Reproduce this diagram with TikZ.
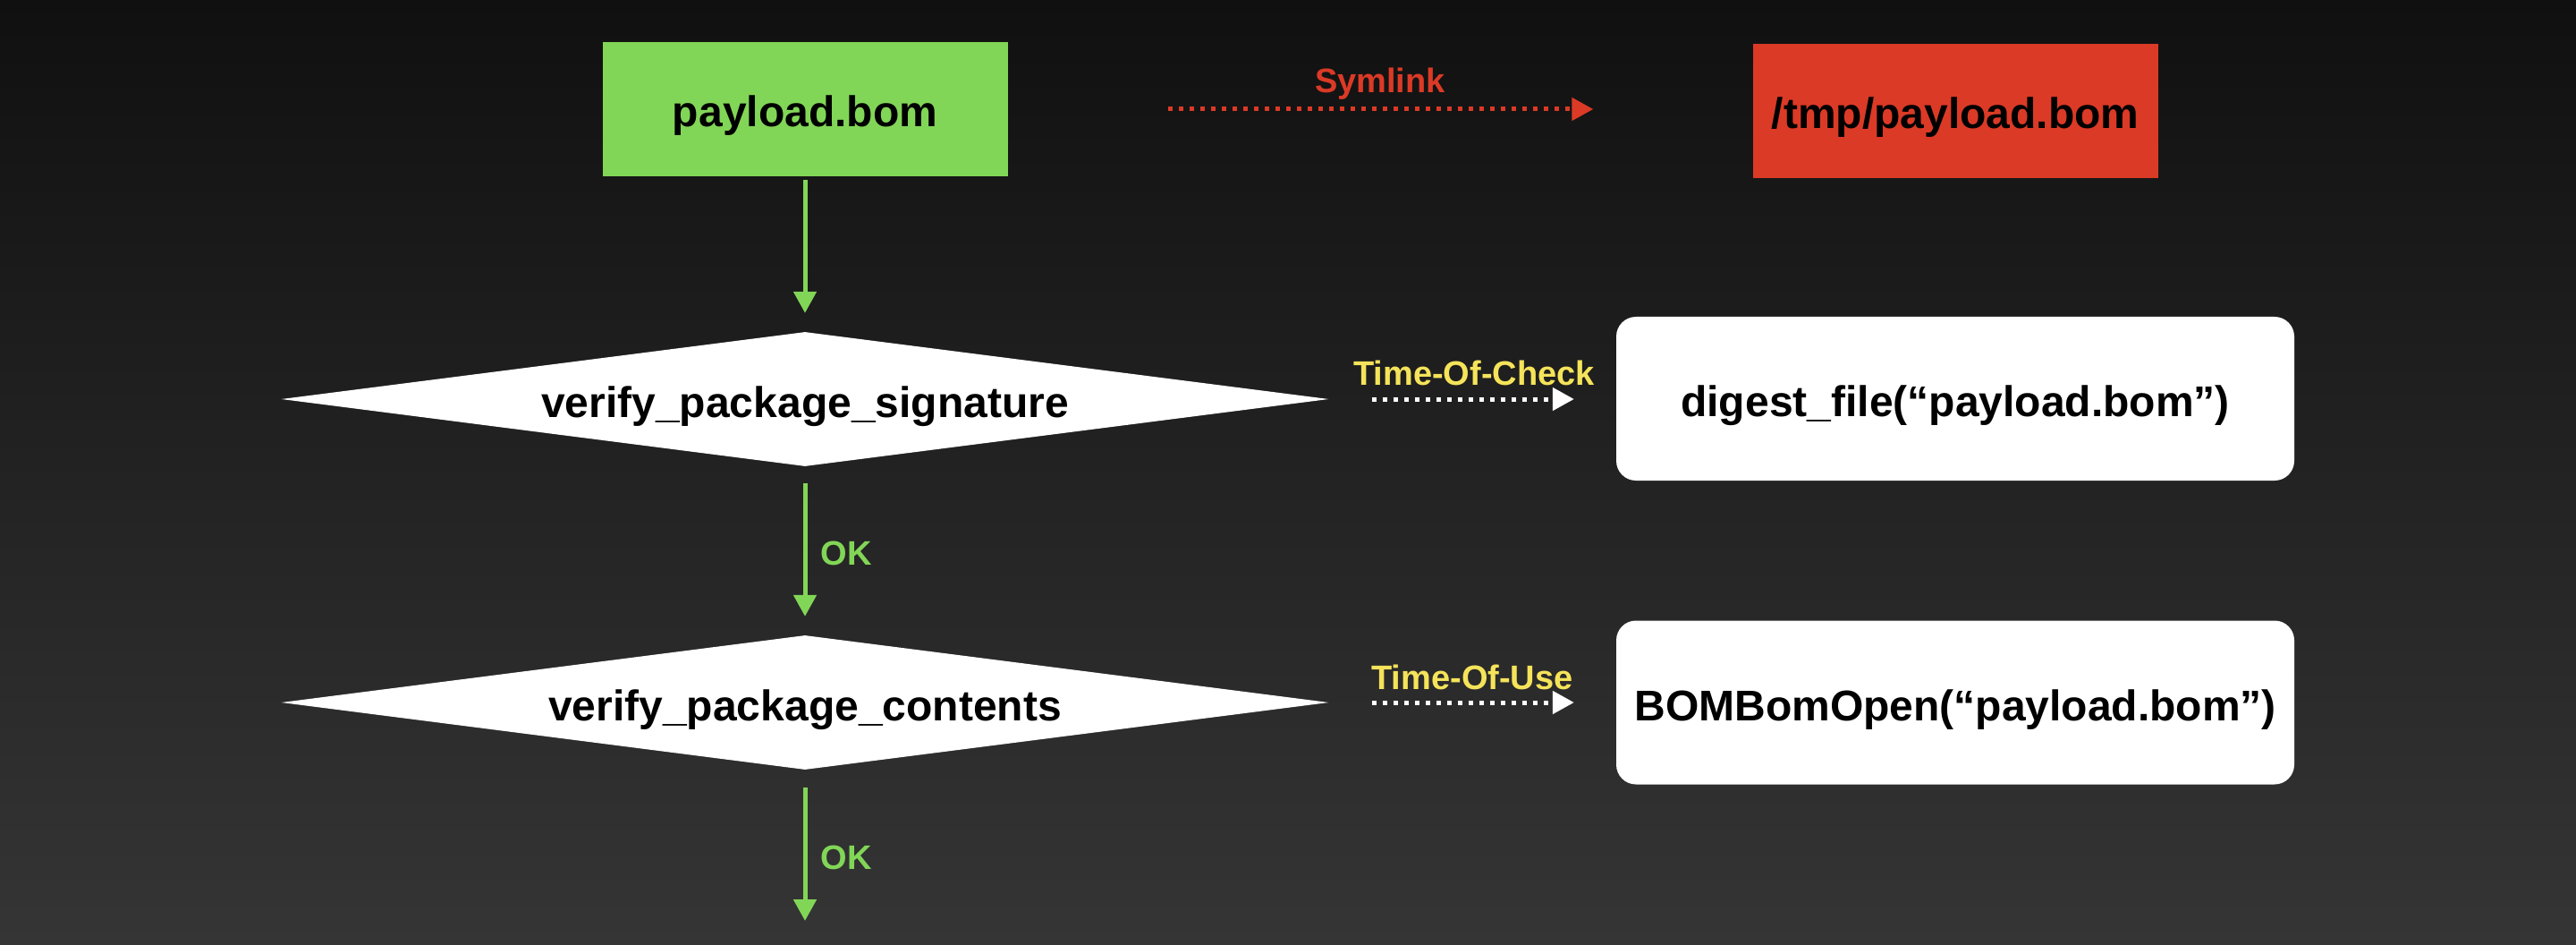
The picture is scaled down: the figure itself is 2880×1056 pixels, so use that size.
\documentclass[tikz,border=0pt]{standalone}
\usepackage{fontspec}
\setmainfont{Liberation Sans}
\usetikzlibrary{shapes.geometric,arrows.meta}
\definecolor{bgtop}{HTML}{101010}
\definecolor{bgbot}{HTML}{353535}
\definecolor{okgreen}{HTML}{82D657}
\definecolor{symred}{HTML}{DB3A26}
\definecolor{tocyellow}{HTML}{F5E35A}
\begin{document}
\begin{tikzpicture}[x=1pt,y=-1pt,
  mainfont/.style={font=\fontsize{48}{58}\selectfont\bfseries, text height=40pt, text depth=0pt},
  filebox/.style={rectangle, inner sep=0pt, minimum width=453pt, minimum height=150pt, mainfont, text=black},
  decision/.style={diamond, aspect=7.8, inner sep=0pt, fill=white, minimum width=1171pt, minimum height=150pt, mainfont, text=black},
  callbox/.style={rectangle, rounded corners=22pt, fill=white, inner sep=0pt, minimum width=758pt, minimum height=183pt, mainfont, text=black},
  flow/.style={draw=okgreen, line width=5pt, -{Triangle[length=24pt,width=25pt,fill=okgreen]}},
  dotarrow/.style={line width=5pt, dash pattern=on 5pt off 7pt, -{Triangle[length=24pt,width=25pt]}},
  lbl/.style={font=\fontsize{38}{44}\selectfont\bfseries, inner sep=0pt, anchor=base}
]
\shade[top color=bgtop, bottom color=bgbot] (0,0) rectangle (2880,1056);

\node[filebox, fill=okgreen] (pb) at (900,122) {payload.bom};
\node[filebox, fill=symred] (tmp) at (2186,124) {/tmp/payload.bom};

\node[decision] (d1) at (900,446) {verify\_package\_signature};
\node[decision] (d2) at (900,785) {verify\_package\_contents};

\node[callbox] (dig) at (2186,445.5) {digest\_file(“payload.bom”)};
\node[callbox] (bom) at (2186,785) {BOMBomOpen(“payload.bom”)};

\coordinate (end) at (900,1029);

% vertical flow
\draw[flow, shorten <=4pt, shorten >=21pt] (pb) -- (d1);
\draw[flow, shorten <=19pt, shorten >=21pt] (d1) -- (d2);
\draw[flow, shorten <=20pt] (d2) -- (end);

\node[lbl, text=okgreen] (ok1) at (946,631) {OK};
\node[lbl, text=okgreen] (ok2) at (946,971) {OK};

% symlink
\draw[dotarrow, symred, shorten <=179pt, shorten >=178pt] (pb.east) -- (pb.east -| tmp.west);
\node[lbl, text=symred] (symlbl) at (1543,104) {Symlink};

% time of check / use
\draw[dotarrow, white, shorten <=48pt, shorten >=47pt] (d1.east) -- (d1.east -| dig.west);
\node[lbl, text=tocyellow] (tocl) at (1648,430) {Time-Of-Check};
\draw[dotarrow, white, shorten <=48pt, shorten >=47pt] (d2.east) -- (d2.east -| bom.west);
\node[lbl, text=tocyellow] (toul) at (1646,770) {Time-Of-Use};
\end{tikzpicture}
\end{document}
